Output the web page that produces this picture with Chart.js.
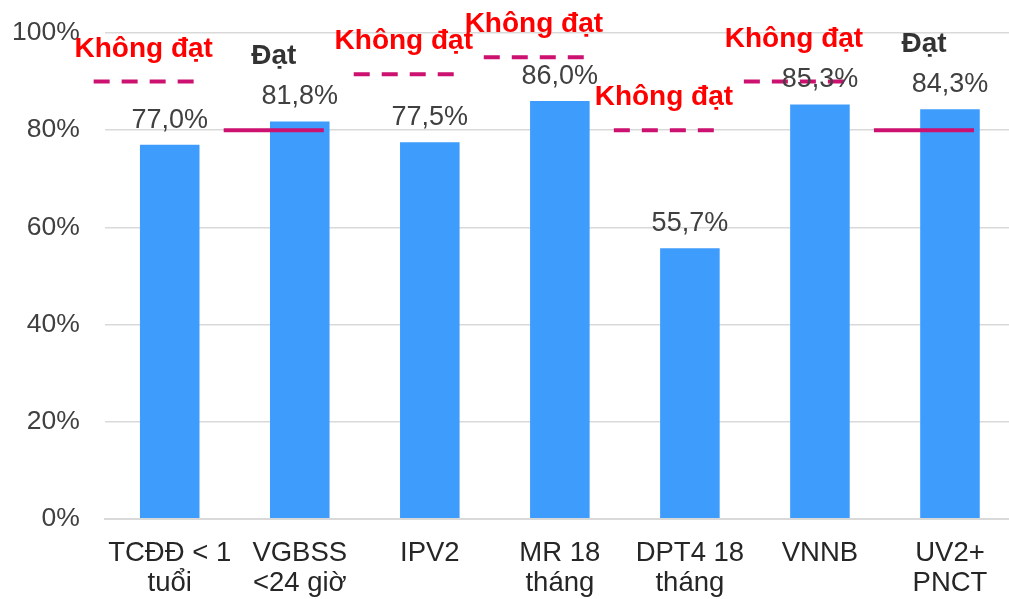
<!DOCTYPE html>
<html>
<head>
<meta charset="utf-8">
<script src="https://cdn.jsdelivr.net/npm/chart.js@4"></script>
<style>
html,body{margin:0;padding:0;overflow:hidden;background:#fff;}
#wrap{width:1015px;height:599px;}
</style>
</head>
<body>
<div id="wrap"><canvas id="c" width="1015" height="599"></canvas></div>
<script>
const categories = [['TCĐĐ < 1','tuổi'], ['VGBSS','<24 giờ'], ['IPV2'], ['MR 18','tháng'], ['DPT4 18','tháng'], ['VNNB'], ['UV2+','PNCT']];
const coverage = [77.0, 81.8, 77.5, 86.0, 55.7, 85.3, 84.3];
const targets = [90, 80, 91.5, 95, 80, 90, 80];
const status = ['Không đạt','Đạt','Không đạt','Không đạt','Không đạt','Không đạt','Đạt'];
const yTicks = [0, 20, 40, 60, 80, 100];

const FONT = "'Liberation Sans', Arial, sans-serif";
const fmt = v => v.toFixed(1).replace('.', ',') + '%';

const targetPlugin = {
  id: 'targets',
  afterDatasetsDraw(chart) {
    const ctx = chart.ctx;
    const xs = chart.scales.x, ys = chart.scales.y;
    const catW = xs.width / categories.length;
    ctx.save();
    for (let i = 0; i < categories.length; i++) {
      const cx = xs.getPixelForValue(i);
      const lc = cx - 0.2 * catW;
      const half = 0.385 * catW;
      const ly = ys.getPixelForValue(targets[i]);
      const met = status[i] === 'Đạt';
      ctx.beginPath();
      ctx.strokeStyle = '#cc1170';
      ctx.lineWidth = 4;
      ctx.lineCap = 'butt';
      ctx.setLineDash(met ? [] : [16, 12]);
      ctx.moveTo(lc - half, ly);
      ctx.lineTo(lc + half, ly);
      ctx.stroke();
      ctx.setLineDash([]);
      const top = ys.getPixelForValue(coverage[i]);
      ctx.font = '27px ' + FONT;
      ctx.fillStyle = '#404040';
      ctx.textAlign = 'center';
      ctx.textBaseline = 'alphabetic';
      ctx.fillText(fmt(coverage[i]), cx, top - 17);
      const sy = Math.min(ly - 25, top - 57);
      ctx.font = 'bold 28px ' + FONT;
      ctx.fillStyle = met ? '#333333' : '#ff0000';
      ctx.fillText(status[i], lc, sy);
    }
    ctx.restore();
  }
};

new Chart(document.getElementById('c'), {
  type: 'bar',
  data: {
    labels: categories,
    datasets: [{
      data: coverage,
      backgroundColor: '#3e9cfd',
      barPercentage: 0.458,
      categoryPercentage: 1.0
    }]
  },
  options: {
    responsive: false,
    animation: false,
    devicePixelRatio: 1,
    layout: { padding: { top: 33, left: 13, right: 0, bottom: 0 } },
    plugins: { legend: { display: false }, tooltip: { enabled: false } },
    scales: {
      x: {
        grid: { display: false, drawTicks: false },
        border: { display: true, color: '#d9d9d9', width: 2 },
        ticks: { color: '#262626', font: { family: FONT, size: 27.5, lineHeight: 1.12 }, padding: 19, maxRotation: 0, autoSkip: false },
        afterFit: s => { s.height = 80.3; s.paddingLeft = 0; s.paddingRight = 0; }
      },
      y: {
        min: 0, max: 100,
        afterBuildTicks: s => { s.ticks = yTicks.map(v => ({ value: v })); },
        grid: { color: '#d9d9d9', lineWidth: 1.5, drawTicks: false },
        border: { display: false },
        ticks: { color: '#404040', font: { family: FONT, size: 26.5 }, padding: 25, callback: v => v + '%' },
        afterFit: s => { s.width = 91.7; s.paddingTop = 0; s.paddingBottom = 0; }
      }
    }
  },
  plugins: [targetPlugin]
});
</script>
</body>
</html>
